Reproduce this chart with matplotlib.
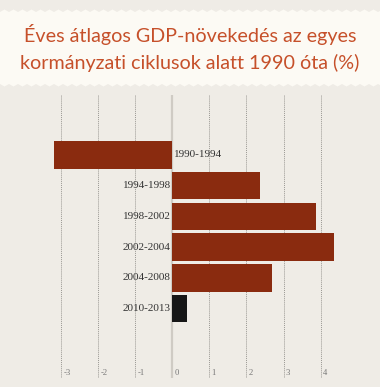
import numpy as np
import matplotlib.pyplot as plt
from matplotlib.patches import Polygon
import matplotlib.transforms as mtransforms

# data
periods = ['1990-1994', '1994-1998', '1998-2002', '2002-2004', '2004-2008', '2010-2013']
growth = [-3.2, 2.37, 3.88, 4.37, 2.68, 0.38]
bar_colors = ['#8a2b0f', '#8a2b0f', '#8a2b0f', '#8a2b0f', '#8a2b0f', '#161616']
ticks = [-3, -2, -1, 0, 1, 2, 3, 4]
title = 'Éves átlagos GDP-növekedés az egyes\nkormányzati ciklusok alatt 1990 óta (%)'

W, H = 380, 387
fig = plt.figure(figsize=(W / 100, H / 100), dpi=100)
fig.patch.set_facecolor('#efece6')

# zig-zag header band
xs = np.arange(0, W + 4.5, 4.5)
top = [H - 12 + (2.5 if i % 2 else 0) for i in range(len(xs))]
bot = [H - 84 - (2.5 if i % 2 else 0) for i in range(len(xs))]
pts = [(x / W, y / H) for x, y in zip(xs, top)] + \
      [(x / W, y / H) for x, y in zip(xs[::-1], bot[::-1])]
fig.patches.append(Polygon(pts, closed=True, transform=fig.transFigure,
                           facecolor='#fcfaf4', edgecolor='none', zorder=0))

fig.text(0.5, 1 - 48 / H, title, ha='center', va='center', color='#c6502a',
         fontsize=14.2, family='Lato', fontweight='normal', linespacing=1.6)

# axes: zero at x=172.5 px, 37 px per unit
x0, x1 = -3.5, 5.5
left_px = 172.5 + x0 * 37
right_px = 172.5 + x1 * 37
ax = fig.add_axes([left_px / W, (H - 378) / H, (right_px - left_px) / W, (378 - 95) / H])
ax.set_facecolor('none')
ax.set_xlim(x0, x1)
ax.set_ylim(7.26, -1.95)
for s in ax.spines.values():
    s.set_visible(False)
ax.set_xticks([])
ax.set_yticks([])

for t in ticks:
    if t == 0:
        ax.axvline(t, color='#cfcbc4', lw=1.6, zorder=1)
    else:
        ax.axvline(t, color='#9a9893', lw=0.7, ls=(0, (1, 1)), zorder=1)

y = np.arange(len(periods))
ax.barh(y, growth, height=0.9, color=bar_colors, zorder=2)

for yi, v, lab in zip(y, growth, periods):
    if v < 0:
        ax.text(0.05, yi, lab, ha='left', va='center', fontsize=8,
                family='Liberation Serif', color='#333333', zorder=3)
    else:
        ax.text(-0.05, yi, lab, ha='right', va='center', fontsize=8,
                family='Liberation Serif', color='#333333', zorder=3)

trans = mtransforms.blended_transform_factory(ax.transData, ax.transAxes)
for t in ticks:
    ax.text(t + 0.06, 0.018, str(t), transform=trans, ha='left', va='center',
            fontsize=6.2, family='Liberation Serif', color='#777777')

fig.savefig('out.png', dpi=100, facecolor=fig.get_facecolor())
